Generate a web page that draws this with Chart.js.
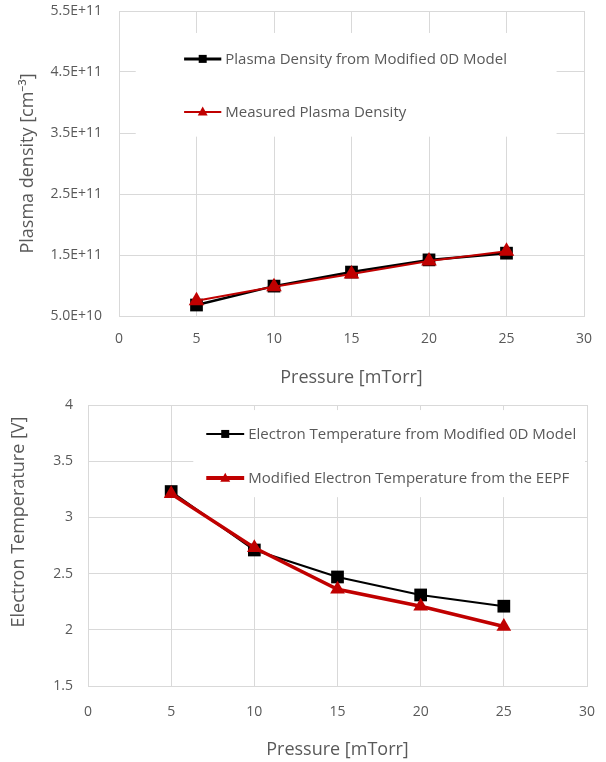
<!DOCTYPE html>
<html>
<head>
<meta charset="utf-8">
<script src="https://cdn.jsdelivr.net/npm/chart.js@4.4.1/dist/chart.umd.min.js"></script>
<style>
html,body{margin:0;padding:0;background:#fff;}
#wrap{position:relative;width:606px;height:762px;}
#c1{position:absolute;left:0;top:0;}
#c2{position:absolute;left:0;top:390px;}
</style>
</head>
<body>
<div id="wrap">
<canvas id="c1" width="606" height="390"></canvas>
<canvas id="c2" width="606" height="372"></canvas>
</div>
<script>
// ---- Data ----
const pressure = [5, 10, 15, 20, 25];
const densityModel = [6.8e10, 9.9e10, 1.22e11, 1.42e11, 1.53e11];
const densityMeasured = [7.5e10, 9.8e10, 1.19e11, 1.40e11, 1.56e11];
const tempModel = [3.23, 2.71, 2.47, 2.31, 2.21];
const tempEEPF = [3.21, 2.73, 2.36, 2.21, 2.03];

const labelDensityModel = 'Plasma Density from Modified 0D Model';
const labelDensityMeasured = 'Measured Plasma Density';
const labelTempModel = 'Electron Temperature from Modified 0D Model';
const labelTempEEPF = 'Modified Electron Temperature from the EEPF';

const xTitle = 'Pressure [mTorr]';
const yTitleTop = 'Plasma density [cm\u207B\u00B3]';
const yTitleBottom = 'Electron Temperature [V]';

const FONT = "'Open Sans', 'Noto Sans', sans-serif";
const TXT = '#595959';
const GRID = '#d9d9d9';
const RED = '#c00000';

function pts(xs, ys){ return xs.map((x,i)=>({x:x, y:ys[i]})); }

// Legend plugin drawn inside the plot area on a white box
const boxLegend = {
  id: 'boxLegend',
  beforeDatasetsDraw(chart, args, opts){
    const ctx = chart.ctx;
    const ca = chart.chartArea;
    const W = ca.right - ca.left, H = ca.bottom - ca.top;
    const bx = ca.left + opts.box[0]*W, by = ca.top + opts.box[1]*H;
    const bw = opts.box[2]*W, bh = opts.box[3]*H;
    ctx.save();
    ctx.fillStyle = '#fff';
    ctx.fillRect(bx, by, bw, bh);
    ctx.font = opts.fontSize + 'px ' + FONT;
    ctx.textBaseline = 'middle';
    ctx.textAlign = 'left';
    chart.data.datasets.forEach((ds, i) => {
      const y = ca.top + opts.rows[i]*H;
      const x0 = ca.left + opts.lineX[0]*W, x1 = ca.left + opts.lineX[1]*W;
      ctx.strokeStyle = ds.borderColor;
      ctx.lineWidth = opts.legendLineWidths[i];
      ctx.beginPath(); ctx.moveTo(x0, y); ctx.lineTo(x1, y); ctx.stroke();
      const mx = (x0 + x1)/2;
      ctx.fillStyle = ds.pointBackgroundColor;
      if (ds.pointStyle === 'rect') {
        const s = opts.markerSize;
        ctx.fillRect(mx - s/2, y - s/2, s, s);
      } else {
        const s = opts.markerSize + 1;
        ctx.beginPath();
        ctx.moveTo(mx, y - s*0.6);
        ctx.lineTo(mx + s*0.55, y + s*0.4);
        ctx.lineTo(mx - s*0.55, y + s*0.4);
        ctx.closePath(); ctx.fill();
      }
      ctx.fillStyle = TXT;
      ctx.fillText(ds.label, x1 + opts.textGap, y + 1);
    });
    ctx.restore();
  }
};

// Custom rotated axis title (for offset positioning)
const sideTitle = {
  id: 'sideTitle',
  afterDraw(chart, args, opts){
    if (!opts.text) return;
    const ctx = chart.ctx;
    ctx.save();
    ctx.translate(opts.x, opts.y);
    ctx.rotate(-Math.PI/2);
    ctx.font = opts.fontSize + 'px ' + FONT;
    ctx.fillStyle = TXT;
    ctx.textAlign = 'center';
    ctx.textBaseline = 'middle';
    ctx.fillText(opts.text, 0, 0);
    ctx.restore();
  }
};

function gridOpts(gap){
  return { color: GRID, lineWidth: 1, drawTicks: true, tickLength: gap, tickColor: 'rgba(0,0,0,0)' };
}

function xScale(height, gap){
  return {
    type: 'linear', min: 0, max: 30,
    ticks: { stepSize: 5, color: TXT, font: {family: FONT, size: 14}, padding: 0 },
    grid: gridOpts(gap),
    border: { color: GRID },
    title: { display: true, text: xTitle, color: TXT, font: {family: FONT, size: 18}, padding: {top:0, bottom: 1} },
    afterFit(s){ s.height = height; }
  };
}

// ---- Top chart ----
new Chart(document.getElementById('c1'), {
  type: 'line',
  data: {
    datasets: [
      { label: labelDensityModel, data: pts(pressure, densityModel), order: 1,
        borderColor: '#000', backgroundColor: '#000', borderWidth: 2.5,
        pointStyle: 'rect', pointRadius: 9, pointHoverRadius: 9,
        pointBackgroundColor: '#000', pointBorderColor: '#000', pointBorderWidth: 0 },
      { label: labelDensityMeasured, data: pts(pressure, densityMeasured), order: 0,
        borderColor: RED, backgroundColor: RED, borderWidth: 2,
        pointStyle: 'triangle', pointRadius: 9, pointHoverRadius: 9,
        pointBackgroundColor: RED, pointBorderColor: RED, pointBorderWidth: 0 }
    ]
  },
  options: {
    responsive: false, animation: false,
    layout: { autoPadding: false, padding: { left: 0, right: 22, top: 11, bottom: 0 } },
    plugins: {
      legend: { display: false }, tooltip: { enabled: false },
      boxLegend: { box: [0.036, 0.072, 0.905, 0.34], rows: [0.157, 0.331],
        lineX: [0.14, 0.22], textGap: 4, fontSize: 15, markerSize: 8, legendLineWidths: [3, 2] },
      sideTitle: {}
    },
    scales: {
      x: xScale(74, 15),
      y: {
        type: 'linear', min: 5e10, max: 5.5e11,
        ticks: { stepSize: 1e11, color: TXT, font: {family: FONT, size: 14}, padding: 0,
          callback: v => v.toExponential(1).toUpperCase() },
        grid: gridOpts(17),
        border: { color: GRID },
        title: { display: true, text: yTitleTop, color: TXT, font: {family: FONT, size: 18}, padding: {top: 17, bottom: 0} },
        afterFit(s){ s.width = 119; }
      }
    }
  },
  plugins: [boxLegend, sideTitle]
});

// ---- Bottom chart ----
new Chart(document.getElementById('c2'), {
  type: 'line',
  data: {
    datasets: [
      { label: labelTempModel, data: pts(pressure, tempModel), order: 1,
        borderColor: '#000', backgroundColor: '#000', borderWidth: 2,
        pointStyle: 'rect', pointRadius: 9, pointHoverRadius: 9,
        pointBackgroundColor: '#000', pointBorderColor: '#000', pointBorderWidth: 0 },
      { label: labelTempEEPF, data: pts(pressure, tempEEPF), order: 0,
        borderColor: RED, backgroundColor: RED, borderWidth: 3.5,
        pointStyle: 'triangle', pointRadius: 8.5, pointHoverRadius: 8.5,
        pointBackgroundColor: RED, pointBorderColor: RED, pointBorderWidth: 0 }
    ]
  },
  options: {
    responsive: false, animation: false,
    layout: { autoPadding: false, padding: { left: 0, right: 19, top: 15, bottom: 0 } },
    plugins: {
      legend: { display: false }, tooltip: { enabled: false },
      boxLegend: { box: [0.211, 0.018, 0.785, 0.31], rows: [0.103, 0.26],
        lineX: [0.237, 0.313], textGap: 4, fontSize: 15, markerSize: 8, legendLineWidths: [2, 4] },
      sideTitle: { text: yTitleBottom, x: 19, y: 132, fontSize: 18 }
    },
    scales: {
      x: xScale(76, 18),
      y: {
        type: 'linear', min: 1.5, max: 4,
        ticks: { stepSize: 0.5, color: TXT, font: {family: FONT, size: 14}, padding: 0,
          callback: v => String(v) },
        grid: gridOpts(15),
        border: { color: GRID },
        title: { display: false },
        afterFit(s){ s.width = 88; }
      }
    }
  },
  plugins: [boxLegend, sideTitle]
});
</script>
</body>
</html>
